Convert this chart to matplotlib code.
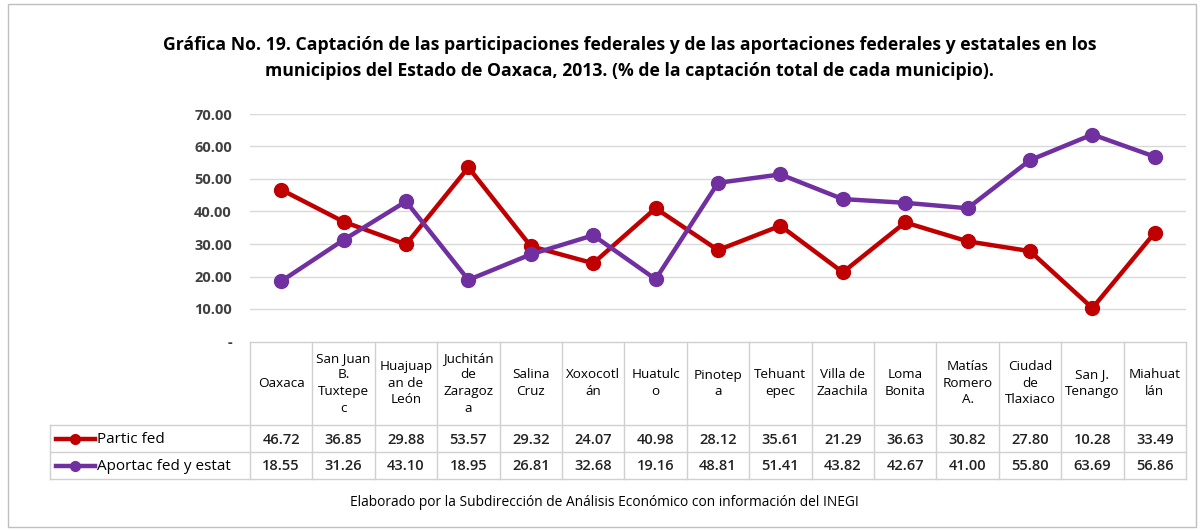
import matplotlib.pyplot as plt
from matplotlib.lines import Line2D
from matplotlib.patches import Rectangle

municipios = ["Oaxaca", "San Juan\nB.\nTuxtepe\nc", "Huajuap\nan de\nLeón",
              "Juchitán\nde\nZaragoz\na", "Salina\nCruz", "Xoxocotl\nán",
              "Huatulc\no", "Pinotep\na", "Tehuant\nepec", "Villa de\nZaachila",
              "Loma\nBonita", "Matías\nRomero\nA.", "Ciudad\nde\nTlaxiaco",
              "San J.\nTenango", "Miahuat\nlán"]
partic_fed = [46.72, 36.85, 29.88, 53.57, 29.32, 24.07, 40.98, 28.12,
              35.61, 21.29, 36.63, 30.82, 27.80, 10.28, 33.49]
aportac = [18.55, 31.26, 43.10, 18.95, 26.81, 32.68, 19.16, 48.81,
           51.41, 43.82, 42.67, 41.00, 55.80, 63.69, 56.86]
series = [("Partic fed", partic_fed, "#C00000"),
          ("Aportac fed y estat", aportac, "#7030A0")]
yticks = [0, 10, 20, 30, 40, 50, 60, 70]

plt.rcParams['font.family'] = ['Open Sans', 'DejaVu Sans']
W, H = 1204, 531
fig = plt.figure(figsize=(W / 100, H / 100), dpi=100)

# table/overlay in pixel coords
ov = fig.add_axes([0, 0, 1, 1])
ov.set_xlim(0, W)
ov.set_ylim(H, 0)
ov.axis('off')
ov.add_patch(Rectangle((8, 4), W - 16, H - 8, fill=False, ec='#BFBFBF', lw=1))

x0, x1 = 250, 1186
y_top, y_bot = 114, 341.5
ax = fig.add_axes([x0 / W, 1 - y_bot / H, (x1 - x0) / W, (y_bot - y_top) / H])
ax.set_facecolor('none')
n = len(municipios)
xs = list(range(n))
for name, vals, col in series:
    ax.plot(xs, vals, color=col, lw=3.2, marker='o', ms=10, label=name)
ax.set_xlim(-0.5, n - 0.5)
ax.set_ylim(0, 70)
ax.set_yticks(yticks)
ax.set_yticklabels(['-' if v == 0 else f"{v:.2f}" for v in yticks],
                   fontsize=10.5, fontweight='bold', color='#404040')
ax.tick_params(axis='y', length=0, pad=13)
ax.set_xticks([])
for v in yticks[1:]:
    ax.axhline(v, color='#D9D9D9', lw=1, zorder=0)
for s in ax.spines.values():
    s.set_visible(False)

# table
cw = (x1 - x0) / n
rows = [341.5, 425, 452, 479]
lc = '#D0D0D0'
ov.plot([x0, x1], [rows[0], rows[0]], color=lc, lw=1)
for y in rows[1:]:
    ov.plot([50, x1], [y, y], color=lc, lw=1)
ov.plot([50, 50], [rows[1], rows[3]], color=lc, lw=1)
for i in range(n + 1):
    ov.plot([x0 + i * cw] * 2, [rows[0], rows[3]], color=lc, lw=1)
for i, m in enumerate(municipios):
    cx = x0 + (i + 0.5) * cw
    ov.text(cx, (rows[0] + rows[1]) / 2, m, ha='center', va='center',
            fontsize=9.7, color='black', linespacing=1.35)
    for r, (name, vals, col) in enumerate(series):
        ov.text(cx, (rows[r + 1] + rows[r + 2]) / 2 + 1, f"{vals[i]:.2f}",
                ha='center', va='center', fontsize=10.5, fontweight='semibold',
                color='#222222')
for r, (name, vals, col) in enumerate(series):
    yc = (rows[r + 1] + rows[r + 2]) / 2
    ov.add_line(Line2D([56, 95], [yc, yc], color=col, lw=3.2))
    ov.add_line(Line2D([75], [yc], color=col, marker='o', ms=7))
    ov.text(97, yc + 1, name, ha='left', va='center', fontsize=11,
            color='black')

fig.text(0.523, 1 - 45 / H,
         "Gráfica No. 19. Captación de las participaciones federales y de las aportaciones federales y estatales en los",
         ha='center', va='center', fontsize=12.7, fontweight='bold')
fig.text(0.523, 1 - 71 / H,
         "municipios del Estado de Oaxaca, 2013. (% de la captación total de cada municipio).",
         ha='center', va='center', fontsize=12.7, fontweight='bold')
fig.text(0.502, 1 - 503 / H,
         "Elaborado por la Subdirección de Análisis Económico con información del INEGI",
         ha='center', va='center', fontsize=9.9)

fig.savefig('out.png', dpi=100)
